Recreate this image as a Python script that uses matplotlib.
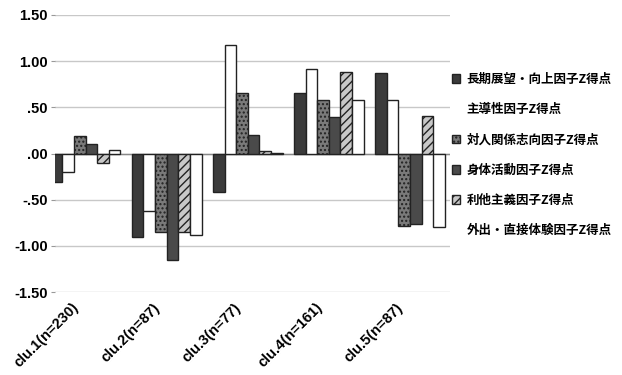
import numpy as np
import matplotlib.pyplot as plt
from matplotlib.patches import Patch

plt.rcParams['font.family'] = ['Noto Sans CJK JP', 'DejaVu Sans']
plt.rcParams['font.weight'] = 'bold'

clusters = ["clu.1(n=230)", "clu.2(n=87)", "clu.3(n=77)", "clu.4(n=161)", "clu.5(n=87)"]
factors = ["長期展望・向上因子Z得点", "主導性因子Z得点", "対人関係志向因子Z得点",
           "身体活動因子Z得点", "利他主義因子Z得点", "外出・直接体験因子Z得点"]

# Z得点 (one list per factor, in cluster order)
long_term = [-0.31, -0.90, -0.42, 0.66, 0.87]
leadership = [-0.20, -0.62, 1.17, 0.92, 0.58]
interpersonal = [0.19, -0.85, 0.66, 0.58, -0.78]
physical = [0.10, -1.15, 0.20, 0.40, -0.76]
altruism = [-0.10, -0.85, 0.03, 0.88, 0.41]
outing = [0.04, -0.88, 0.01, 0.58, -0.80]
series = [long_term, leadership, interpersonal, physical, altruism, outing]

y_ticks = [1.5, 1.0, 0.5, 0.0, -0.5, -1.0, -1.5]
y_labels = ["1.50", "1.00", ".50", ".00", "-.50", "-1.00", "-1.50"]

faces = ["#3b3b3b", "white", "#7a7a7a", "#4a4a4a", "#c8c8c8", "white"]
hatches = [None, None, "....", None, "////", None]

fig = plt.figure(figsize=(6.22, 3.75), dpi=100)
ax = fig.add_axes([0.088, 0.221, 0.635, 0.739])

x = np.arange(len(clusters))
group = 0.86
w = group / len(series)
for i, vals in enumerate(series):
    pos = x - group / 2 + w * (i + 0.5)
    ax.bar(pos, vals, width=w, color=faces[i], edgecolor="#222222",
           linewidth=1.0, hatch=hatches[i], zorder=3)

ax.set_xlim(-0.38, 4.49)
ax.set_ylim(-1.5, 1.5)
ax.set_yticks(y_ticks)
ax.set_yticklabels(y_labels, fontsize=10.5, fontweight="bold", family="Liberation Sans")
ax.set_xticks(x - 0.17)
ax.set_xticklabels(clusters, rotation=45, ha="right", rotation_mode="anchor",
                   fontsize=10.5, fontweight="bold", family="Liberation Sans")
ax.tick_params(axis="x", length=0, pad=6)
ax.tick_params(axis="y", length=3, color="#999999", pad=2)

for t in y_ticks:
    ax.axhline(t, color="#c8c8c8", linewidth=1.0, zorder=1)
ax.axhline(0, color="#888888", linewidth=1.0, zorder=2)
for s in ax.spines.values():
    s.set_visible(False)

handles = []
for i in range(len(series)):
    if faces[i] == "white" and hatches[i] is None:
        handles.append(Patch(facecolor="none", edgecolor="none"))
    else:
        handles.append(Patch(facecolor=faces[i], edgecolor="#222222", hatch=hatches[i]))
fig.legend(handles, factors, loc="upper left", bbox_to_anchor=(0.708, 0.836),
           frameon=False, handlelength=0.7, handleheight=0.7, handletextpad=0.5,
           labelspacing=1.38, prop=dict(weight="bold", size=9))

fig.savefig("out.png", dpi=100, facecolor="white")
